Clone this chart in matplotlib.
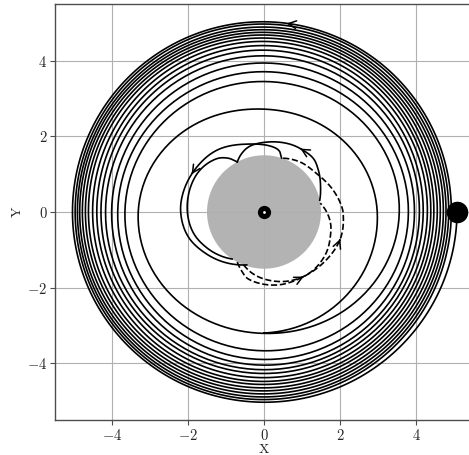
import numpy as np
import matplotlib
matplotlib.use("Agg")
import matplotlib.pyplot as plt
from matplotlib.patches import Circle
from matplotlib.ticker import FuncFormatter

plt.rcParams['mathtext.fontset'] = 'cm'
plt.rcParams['font.family'] = 'serif'

# planet
planet_radius = 1.5

# outer spiral: radius where each turn crosses the right / top / left / bottom axis
spiral_start = 3.20  # bottom crossing just before the first right crossing
spiral_right = [2.98, 3.56, 3.80, 3.96, 4.09, 4.19, 4.30, 4.39, 4.47, 4.56, 4.64, 4.72, 4.79, 4.86, 4.93, 5.08]
spiral_top = [2.72, 3.45, 3.71, 3.94, 4.13, 4.28, 4.40, 4.51, 4.60, 4.68, 4.75, 4.82, 4.89, 4.97, 5.03]
spiral_left = [3.31, 3.66, 3.85, 4.01, 4.17, 4.29, 4.40, 4.51, 4.62, 4.70, 4.78, 4.85, 4.91, 4.97, 5.04]
spiral_bottom = [3.21, 3.67, 3.90, 4.05, 4.17, 4.27, 4.38, 4.48, 4.56, 4.65, 4.73, 4.81, 4.89, 4.96, 5.03]

# hops near the surface, (angle in degrees, radius)
hop1_theta = [249, 260, 272, 290, 307, 325, 340, 350, 360, 369]
hop1_r = [1.5, 1.66, 1.79, 1.94, 2.01, 1.97, 1.86, 1.78, 1.65, 1.5]

hop2_theta = [12, 24, 37.8, 47.3, 57.7, 69, 87.8, 102, 111, 118]
hop2_r = [1.5, 1.63, 1.81, 1.92, 1.93, 1.92, 1.85, 1.78, 1.65, 1.5]

hop3_theta = [118, 124, 133, 150, 174, 195, 212, 226, 236]
hop3_r = [1.5, 1.72, 1.90, 2.03, 2.03, 1.95, 1.78, 1.62, 1.5]

hop4_theta = [242, 250, 258, 280, 301, 319, 340, 357, 364, 377.6, 396, 414, 432]
hop4_r = [1.5, 1.68, 1.83, 1.96, 2.0, 2.06, 2.13, 2.09, 2.05, 1.91, 1.72, 1.63, 1.5]

hop5_theta = [72, 79, 104, 127, 146, 167, 181, 198, 216, 237, 252]
hop5_r = [1.5, 1.71, 1.85, 2.05, 2.13, 2.19, 2.19, 2.10, 1.88, 1.63, 1.47]


def smooth_polar(theta_deg, r, n=40):
    pts = np.column_stack([theta_deg, r]).astype(float)
    p = np.vstack([2 * pts[0] - pts[1], pts, 2 * pts[-1] - pts[-2]])
    t = np.linspace(0, 1, n, endpoint=False)[:, None]
    out = []
    for i in range(1, len(p) - 2):
        p0, p1, p2, p3 = p[i - 1], p[i], p[i + 1], p[i + 2]
        seg = 0.5 * (2 * p1 + (-p0 + p2) * t + (2 * p0 - 5 * p1 + 4 * p2 - p3) * t ** 2
                     + (-p0 + 3 * p1 - 3 * p2 + p3) * t ** 3)
        out.append(seg)
    out.append(pts[-1:])
    out = np.vstack(out)
    th = np.radians(out[:, 0])
    return out[:, 0], out[:, 1] * np.cos(th), out[:, 1] * np.sin(th)


def add_arrow(ax, th, x, y, target):
    i = int(np.argmin(np.abs(th - target)))
    ax.annotate('', xy=(x[i + 1], y[i + 1]), xytext=(x[i - 1], y[i - 1]),
                arrowprops=dict(arrowstyle='->', color='k', lw=1.1, mutation_scale=14))


# spiral control points, one every quarter turn
sp_r = [spiral_start]
for k in range(len(spiral_top)):
    sp_r += [spiral_right[k], spiral_top[k], spiral_left[k], spiral_bottom[k]]
sp_r.append(spiral_right[-1])
sp_theta = [90 * (k - 1) for k in range(len(sp_r))]

fig = plt.figure(figsize=(4.69, 4.55), dpi=100)
ax = fig.add_axes([55 / 469, 35 / 455, 418 / 469, 416 / 455])

ax.add_patch(Circle((0, 0), planet_radius, color='#b3b3b3', zorder=1, lw=0))

lw = 1.2
th, x, y = smooth_polar(sp_theta, sp_r, n=60)
ax.plot(x, y, 'k', lw=lw)
add_arrow(ax, th, x, y, 360 * 14 + 83)

th1, x1, y1 = smooth_polar(hop1_theta, hop1_r)
ax.plot(x1, y1, 'k--', lw=lw)

th2, x2, y2 = smooth_polar(hop2_theta, hop2_r)
ax.plot(x2, y2, 'k', lw=lw)
add_arrow(ax, th2, x2, y2, 60)

th3, x3, y3 = smooth_polar(hop3_theta, hop3_r)
ax.plot(x3, y3, 'k', lw=lw)

th4, x4, y4 = smooth_polar(hop4_theta, hop4_r)
ax.plot(x4, y4, 'k--', lw=lw)
add_arrow(ax, th4, x4, y4, 301)
add_arrow(ax, th4, x4, y4, 340)

th5, x5, y5 = smooth_polar(hop5_theta, hop5_r)
ax.plot(x5, y5, 'k', lw=lw)
add_arrow(ax, th5, x5, y5, 152)

# planet centre and final position
ax.plot(0, 0, 'o', color='k', ms=8.5, zorder=5)
ax.plot(0, 0, 'o', color='w', ms=2, mew=0, zorder=6)
ax.plot(x[-1], y[-1], 'o', color='k', ms=14.5, zorder=5)

ax.set_xlim(-5.5, 5.5)
ax.set_ylim(-5.5, 5.5)
ax.set_xticks([-4, -2, 0, 2, 4])
ax.set_yticks([-4, -2, 0, 2, 4])
fmt = FuncFormatter(lambda v, p: r'$%d$' % v)
ax.xaxis.set_major_formatter(fmt)
ax.yaxis.set_major_formatter(fmt)
ax.tick_params(direction='out', length=3.5, width=0.8, color='0.3', labelsize=10.5,
               labelcolor='0.15', pad=2)
ax.set_xlabel(r'$\mathrm{X}$', fontsize=10, color='0.15')
ax.set_ylabel(r'$\mathrm{Y}$', fontsize=10, color='0.15')
ax.xaxis.set_label_coords(0.5, -22 / 416)
ax.yaxis.set_label_coords(-31 / 418, 0.5)
ax.grid(True, color='#b0b0b0', lw=0.8)
for s in ax.spines.values():
    s.set_color('0.3')
    s.set_linewidth(1.0)

plt.savefig('out.png', dpi=100)
